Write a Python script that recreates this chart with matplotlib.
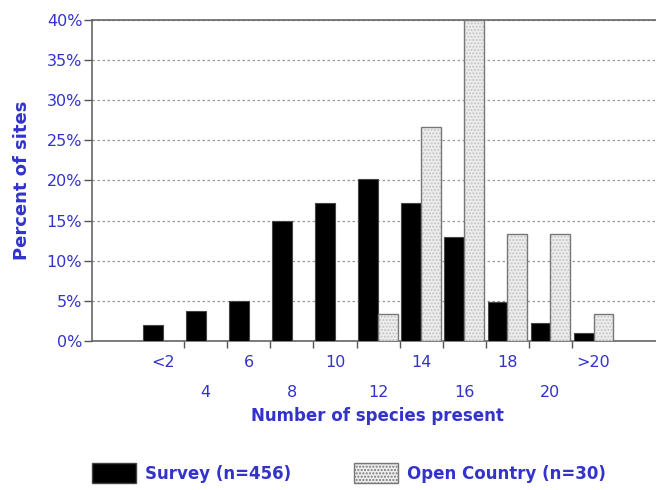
import matplotlib
matplotlib.use('Agg')
import matplotlib.pyplot as plt
from matplotlib.patches import Patch
import numpy as np

# data
categories = ['<2', '4', '6', '8', '10', '12', '14', '16', '18', '20', '>20']
survey = [2.0, 3.7, 5.0, 15.0, 17.2, 20.2, 17.2, 13.0, 4.8, 2.3, 1.0]
open_country = [0, 0, 0, 0, 0, 3.4, 26.7, 40.0, 13.3, 13.3, 3.4]
yticks = [0, 5, 10, 15, 20, 25, 30, 35, 40]

blue = '#3333cc'
plt.rcParams['font.family'] = ['DejaVu Sans']

fig = plt.figure(figsize=(6.56, 4.90), dpi=100)
ax = fig.add_axes([92 / 656, 149 / 490, 564 / 656, 321 / 490])

x = np.arange(len(categories))
w = 0.46
ax.bar(x - w / 2, survey, width=w, color='black', edgecolor='#444444', linewidth=0.8, zorder=3)
ax.bar(x + w / 2, open_country, width=w, color='#eeeeee', edgecolor='#c4c4c4', hatch='.....',
       linewidth=0, zorder=3)
ax.bar(x + w / 2, open_country, width=w, fill=False, edgecolor='#777777', linewidth=1.0, zorder=4)

ax.set_xlim(-1.64, 11.45)
ax.set_ylim(0, 40)

# y axis: percent ticks + dotted grid
ax.set_yticks(yticks)
ax.set_yticklabels([f'{v}%' for v in yticks], color=blue, fontsize=11.5)
ax.yaxis.grid(True, color='#999999', linestyle=(0, (2, 2)), linewidth=0.9)
ax.set_axisbelow(True)

# x axis: staggered labels, ticks between the groups
ax.set_xticks(x)
ax.set_xticklabels(categories, color=blue, fontsize=11.5)
ax.set_xticks(x[:-1] + 0.5, minor=True)
ax.tick_params(axis='x', which='major', length=0)
ax.tick_params(axis='x', which='minor', length=5, color='#555555', width=1)
ax.tick_params(axis='y', length=6, color='#555555', width=1, pad=1)
for i, t in enumerate(ax.xaxis.get_major_ticks()):
    t.set_pad(10 if i % 2 == 0 else 32)

for s in ['left', 'bottom', 'top']:
    ax.spines[s].set_color('#666666')
    ax.spines[s].set_linewidth(1.2)
ax.spines['right'].set_visible(False)

ax.set_xlabel('Number of species present', color=blue, fontsize=12, fontweight='bold')
ax.xaxis.set_label_coords((377 - 92) / 564, (341 - 407) / 321)
ax.set_ylabel('Percent of sites', color=blue, fontsize=13, fontweight='bold')
ax.yaxis.set_label_coords((31 - 92) / 564, 0.5)

handles = [Patch(facecolor='black', edgecolor='#444444'),
           Patch(facecolor='#eeeeee', edgecolor='#777777', hatch='.....')]
leg = fig.legend(handles, ['Survey (n=456)', 'Open Country (n=30)'], loc='center',
                 bbox_to_anchor=(349 / 656, 17 / 490), ncol=2, frameon=False,
                 handlelength=2.6, handleheight=1.5, handletextpad=0.55, columnspacing=3.8,
                 prop={'size': 12, 'weight': 'bold'})
for t in leg.get_texts():
    t.set_color(blue)

fig.savefig('out.png', dpi=100)
